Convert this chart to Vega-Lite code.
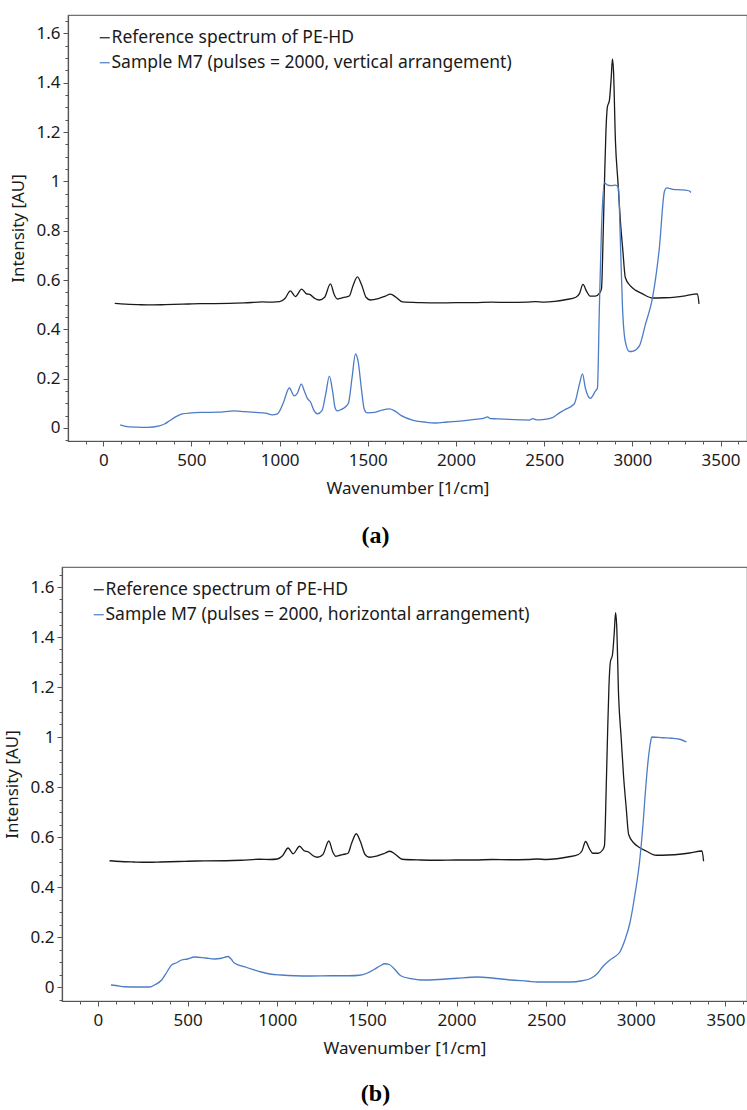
{
  "$schema": "https://vega.github.io/schema/vega-lite/v6.json",
  "padding": {"left": 2, "top": 14, "right": 0, "bottom": 5},
  "spacing": 17,
  "config": {
    "view": {"stroke": "#707070", "strokeWidth": 1.2},
    "axis": {
      "labelFont": "Noto Sans", "labelFontSize": 17, "labelColor": "#1a1a1a",
      "titleFont": "Noto Sans", "titleFontSize": 17, "titleFontWeight": "normal", "titleColor": "#1a1a1a",
      "domainColor": "#555555", "domainWidth": 1.2, "tickColor": "#555555", "tickWidth": 1, "grid": false
    },
    "legend": {
      "labelFont": "Noto Sans", "labelFontSize": 17.5, "labelColor": "#1a1a1a", "labelLimit": 700,
      "symbolType": "stroke", "symbolSize": 100, "symbolStrokeWidth": 1.2,
      "orient": "none", "legendX": 28, "legendY": 14, "rowPadding": 6, "labelOffset": -2, "padding": 0
    },
    "title": {"font": "Liberation Serif", "fontSize": 24, "fontWeight": "bold", "color": "#000000"}
  },
  "datasets": {
    "ref": [
      {"series": "Reference spectrum of PE-HD", "wn": 65, "I": 0.505},
      {"series": "Reference spectrum of PE-HD", "wn": 100, "I": 0.503},
      {"series": "Reference spectrum of PE-HD", "wn": 150, "I": 0.501},
      {"series": "Reference spectrum of PE-HD", "wn": 200, "I": 0.5},
      {"series": "Reference spectrum of PE-HD", "wn": 278, "I": 0.499},
      {"series": "Reference spectrum of PE-HD", "wn": 350, "I": 0.5},
      {"series": "Reference spectrum of PE-HD", "wn": 450, "I": 0.502},
      {"series": "Reference spectrum of PE-HD", "wn": 550, "I": 0.504},
      {"series": "Reference spectrum of PE-HD", "wn": 714, "I": 0.505},
      {"series": "Reference spectrum of PE-HD", "wn": 800, "I": 0.507},
      {"series": "Reference spectrum of PE-HD", "wn": 902, "I": 0.511},
      {"series": "Reference spectrum of PE-HD", "wn": 960, "I": 0.51},
      {"series": "Reference spectrum of PE-HD", "wn": 1000, "I": 0.512},
      {"series": "Reference spectrum of PE-HD", "wn": 1030, "I": 0.525},
      {"series": "Reference spectrum of PE-HD", "wn": 1061, "I": 0.556},
      {"series": "Reference spectrum of PE-HD", "wn": 1089, "I": 0.533},
      {"series": "Reference spectrum of PE-HD", "wn": 1125, "I": 0.563},
      {"series": "Reference spectrum of PE-HD", "wn": 1150, "I": 0.545},
      {"series": "Reference spectrum of PE-HD", "wn": 1175, "I": 0.54},
      {"series": "Reference spectrum of PE-HD", "wn": 1200, "I": 0.525},
      {"series": "Reference spectrum of PE-HD", "wn": 1225, "I": 0.519},
      {"series": "Reference spectrum of PE-HD", "wn": 1255, "I": 0.53},
      {"series": "Reference spectrum of PE-HD", "wn": 1288, "I": 0.584},
      {"series": "Reference spectrum of PE-HD", "wn": 1310, "I": 0.54},
      {"series": "Reference spectrum of PE-HD", "wn": 1327, "I": 0.523},
      {"series": "Reference spectrum of PE-HD", "wn": 1350, "I": 0.527},
      {"series": "Reference spectrum of PE-HD", "wn": 1373, "I": 0.531},
      {"series": "Reference spectrum of PE-HD", "wn": 1395, "I": 0.535},
      {"series": "Reference spectrum of PE-HD", "wn": 1415, "I": 0.575},
      {"series": "Reference spectrum of PE-HD", "wn": 1441, "I": 0.613},
      {"series": "Reference spectrum of PE-HD", "wn": 1465, "I": 0.58},
      {"series": "Reference spectrum of PE-HD", "wn": 1490, "I": 0.53},
      {"series": "Reference spectrum of PE-HD", "wn": 1514, "I": 0.519},
      {"series": "Reference spectrum of PE-HD", "wn": 1560, "I": 0.525},
      {"series": "Reference spectrum of PE-HD", "wn": 1600, "I": 0.535},
      {"series": "Reference spectrum of PE-HD", "wn": 1628, "I": 0.543},
      {"series": "Reference spectrum of PE-HD", "wn": 1660, "I": 0.53},
      {"series": "Reference spectrum of PE-HD", "wn": 1696, "I": 0.511},
      {"series": "Reference spectrum of PE-HD", "wn": 1800, "I": 0.508},
      {"series": "Reference spectrum of PE-HD", "wn": 1900, "I": 0.507},
      {"series": "Reference spectrum of PE-HD", "wn": 2000, "I": 0.508},
      {"series": "Reference spectrum of PE-HD", "wn": 2100, "I": 0.508},
      {"series": "Reference spectrum of PE-HD", "wn": 2200, "I": 0.51},
      {"series": "Reference spectrum of PE-HD", "wn": 2300, "I": 0.509},
      {"series": "Reference spectrum of PE-HD", "wn": 2400, "I": 0.51},
      {"series": "Reference spectrum of PE-HD", "wn": 2450, "I": 0.512},
      {"series": "Reference spectrum of PE-HD", "wn": 2500, "I": 0.51},
      {"series": "Reference spectrum of PE-HD", "wn": 2560, "I": 0.513},
      {"series": "Reference spectrum of PE-HD", "wn": 2620, "I": 0.52},
      {"series": "Reference spectrum of PE-HD", "wn": 2680, "I": 0.53},
      {"series": "Reference spectrum of PE-HD", "wn": 2700, "I": 0.545},
      {"series": "Reference spectrum of PE-HD", "wn": 2720, "I": 0.582},
      {"series": "Reference spectrum of PE-HD", "wn": 2740, "I": 0.555},
      {"series": "Reference spectrum of PE-HD", "wn": 2760, "I": 0.535},
      {"series": "Reference spectrum of PE-HD", "wn": 2790, "I": 0.535},
      {"series": "Reference spectrum of PE-HD", "wn": 2815, "I": 0.548},
      {"series": "Reference spectrum of PE-HD", "wn": 2825, "I": 0.565},
      {"series": "Reference spectrum of PE-HD", "wn": 2835, "I": 0.8},
      {"series": "Reference spectrum of PE-HD", "wn": 2842, "I": 1.0},
      {"series": "Reference spectrum of PE-HD", "wn": 2850, "I": 1.2},
      {"series": "Reference spectrum of PE-HD", "wn": 2858, "I": 1.3},
      {"series": "Reference spectrum of PE-HD", "wn": 2870, "I": 1.33},
      {"series": "Reference spectrum of PE-HD", "wn": 2880, "I": 1.42},
      {"series": "Reference spectrum of PE-HD", "wn": 2887, "I": 1.497},
      {"series": "Reference spectrum of PE-HD", "wn": 2893, "I": 1.45},
      {"series": "Reference spectrum of PE-HD", "wn": 2904, "I": 1.164},
      {"series": "Reference spectrum of PE-HD", "wn": 2918, "I": 1.0},
      {"series": "Reference spectrum of PE-HD", "wn": 2932, "I": 0.84},
      {"series": "Reference spectrum of PE-HD", "wn": 2946, "I": 0.72},
      {"series": "Reference spectrum of PE-HD", "wn": 2960, "I": 0.61},
      {"series": "Reference spectrum of PE-HD", "wn": 2989, "I": 0.576},
      {"series": "Reference spectrum of PE-HD", "wn": 3020, "I": 0.558},
      {"series": "Reference spectrum of PE-HD", "wn": 3057, "I": 0.544},
      {"series": "Reference spectrum of PE-HD", "wn": 3114, "I": 0.527},
      {"series": "Reference spectrum of PE-HD", "wn": 3180, "I": 0.528},
      {"series": "Reference spectrum of PE-HD", "wn": 3244, "I": 0.531},
      {"series": "Reference spectrum of PE-HD", "wn": 3300, "I": 0.536},
      {"series": "Reference spectrum of PE-HD", "wn": 3369, "I": 0.544},
      {"series": "Reference spectrum of PE-HD", "wn": 3378, "I": 0.503}
    ],
    "sa": [
      {"series": "Sample M7 (pulses = 2000, vertical arrangement)", "wn": 96, "I": 0.012},
      {"series": "Sample M7 (pulses = 2000, vertical arrangement)", "wn": 120, "I": 0.007},
      {"series": "Sample M7 (pulses = 2000, vertical arrangement)", "wn": 147, "I": 0.004},
      {"series": "Sample M7 (pulses = 2000, vertical arrangement)", "wn": 200, "I": 0.003},
      {"series": "Sample M7 (pulses = 2000, vertical arrangement)", "wn": 250, "I": 0.002},
      {"series": "Sample M7 (pulses = 2000, vertical arrangement)", "wn": 318, "I": 0.008},
      {"series": "Sample M7 (pulses = 2000, vertical arrangement)", "wn": 350, "I": 0.017},
      {"series": "Sample M7 (pulses = 2000, vertical arrangement)", "wn": 374, "I": 0.028},
      {"series": "Sample M7 (pulses = 2000, vertical arrangement)", "wn": 410, "I": 0.045},
      {"series": "Sample M7 (pulses = 2000, vertical arrangement)", "wn": 448, "I": 0.057},
      {"series": "Sample M7 (pulses = 2000, vertical arrangement)", "wn": 500, "I": 0.061},
      {"series": "Sample M7 (pulses = 2000, vertical arrangement)", "wn": 562, "I": 0.063},
      {"series": "Sample M7 (pulses = 2000, vertical arrangement)", "wn": 650, "I": 0.064},
      {"series": "Sample M7 (pulses = 2000, vertical arrangement)", "wn": 743, "I": 0.069},
      {"series": "Sample M7 (pulses = 2000, vertical arrangement)", "wn": 800, "I": 0.066},
      {"series": "Sample M7 (pulses = 2000, vertical arrangement)", "wn": 862, "I": 0.063},
      {"series": "Sample M7 (pulses = 2000, vertical arrangement)", "wn": 920, "I": 0.06},
      {"series": "Sample M7 (pulses = 2000, vertical arrangement)", "wn": 958, "I": 0.053},
      {"series": "Sample M7 (pulses = 2000, vertical arrangement)", "wn": 987, "I": 0.057},
      {"series": "Sample M7 (pulses = 2000, vertical arrangement)", "wn": 1020, "I": 0.1},
      {"series": "Sample M7 (pulses = 2000, vertical arrangement)", "wn": 1055, "I": 0.162},
      {"series": "Sample M7 (pulses = 2000, vertical arrangement)", "wn": 1083, "I": 0.13},
      {"series": "Sample M7 (pulses = 2000, vertical arrangement)", "wn": 1100, "I": 0.14},
      {"series": "Sample M7 (pulses = 2000, vertical arrangement)", "wn": 1123, "I": 0.178},
      {"series": "Sample M7 (pulses = 2000, vertical arrangement)", "wn": 1140, "I": 0.15},
      {"series": "Sample M7 (pulses = 2000, vertical arrangement)", "wn": 1157, "I": 0.12},
      {"series": "Sample M7 (pulses = 2000, vertical arrangement)", "wn": 1175, "I": 0.105},
      {"series": "Sample M7 (pulses = 2000, vertical arrangement)", "wn": 1195, "I": 0.07},
      {"series": "Sample M7 (pulses = 2000, vertical arrangement)", "wn": 1214, "I": 0.057},
      {"series": "Sample M7 (pulses = 2000, vertical arrangement)", "wn": 1240, "I": 0.07},
      {"series": "Sample M7 (pulses = 2000, vertical arrangement)", "wn": 1262, "I": 0.14},
      {"series": "Sample M7 (pulses = 2000, vertical arrangement)", "wn": 1282, "I": 0.21},
      {"series": "Sample M7 (pulses = 2000, vertical arrangement)", "wn": 1300, "I": 0.15},
      {"series": "Sample M7 (pulses = 2000, vertical arrangement)", "wn": 1315, "I": 0.08},
      {"series": "Sample M7 (pulses = 2000, vertical arrangement)", "wn": 1327, "I": 0.069},
      {"series": "Sample M7 (pulses = 2000, vertical arrangement)", "wn": 1350, "I": 0.075},
      {"series": "Sample M7 (pulses = 2000, vertical arrangement)", "wn": 1365, "I": 0.081},
      {"series": "Sample M7 (pulses = 2000, vertical arrangement)", "wn": 1390, "I": 0.1},
      {"series": "Sample M7 (pulses = 2000, vertical arrangement)", "wn": 1410, "I": 0.2},
      {"series": "Sample M7 (pulses = 2000, vertical arrangement)", "wn": 1430, "I": 0.3},
      {"series": "Sample M7 (pulses = 2000, vertical arrangement)", "wn": 1445, "I": 0.27},
      {"series": "Sample M7 (pulses = 2000, vertical arrangement)", "wn": 1465, "I": 0.15},
      {"series": "Sample M7 (pulses = 2000, vertical arrangement)", "wn": 1480, "I": 0.075},
      {"series": "Sample M7 (pulses = 2000, vertical arrangement)", "wn": 1497, "I": 0.061},
      {"series": "Sample M7 (pulses = 2000, vertical arrangement)", "wn": 1540, "I": 0.063},
      {"series": "Sample M7 (pulses = 2000, vertical arrangement)", "wn": 1580, "I": 0.072},
      {"series": "Sample M7 (pulses = 2000, vertical arrangement)", "wn": 1622, "I": 0.077},
      {"series": "Sample M7 (pulses = 2000, vertical arrangement)", "wn": 1650, "I": 0.07},
      {"series": "Sample M7 (pulses = 2000, vertical arrangement)", "wn": 1690, "I": 0.05},
      {"series": "Sample M7 (pulses = 2000, vertical arrangement)", "wn": 1753, "I": 0.032},
      {"series": "Sample M7 (pulses = 2000, vertical arrangement)", "wn": 1820, "I": 0.024},
      {"series": "Sample M7 (pulses = 2000, vertical arrangement)", "wn": 1883, "I": 0.02},
      {"series": "Sample M7 (pulses = 2000, vertical arrangement)", "wn": 1950, "I": 0.024},
      {"series": "Sample M7 (pulses = 2000, vertical arrangement)", "wn": 2050, "I": 0.03},
      {"series": "Sample M7 (pulses = 2000, vertical arrangement)", "wn": 2120, "I": 0.036},
      {"series": "Sample M7 (pulses = 2000, vertical arrangement)", "wn": 2160, "I": 0.04},
      {"series": "Sample M7 (pulses = 2000, vertical arrangement)", "wn": 2178, "I": 0.045},
      {"series": "Sample M7 (pulses = 2000, vertical arrangement)", "wn": 2195, "I": 0.038},
      {"series": "Sample M7 (pulses = 2000, vertical arrangement)", "wn": 2234, "I": 0.037},
      {"series": "Sample M7 (pulses = 2000, vertical arrangement)", "wn": 2300, "I": 0.035},
      {"series": "Sample M7 (pulses = 2000, vertical arrangement)", "wn": 2370, "I": 0.033},
      {"series": "Sample M7 (pulses = 2000, vertical arrangement)", "wn": 2416, "I": 0.032},
      {"series": "Sample M7 (pulses = 2000, vertical arrangement)", "wn": 2435, "I": 0.038},
      {"series": "Sample M7 (pulses = 2000, vertical arrangement)", "wn": 2455, "I": 0.033},
      {"series": "Sample M7 (pulses = 2000, vertical arrangement)", "wn": 2490, "I": 0.034},
      {"series": "Sample M7 (pulses = 2000, vertical arrangement)", "wn": 2547, "I": 0.042},
      {"series": "Sample M7 (pulses = 2000, vertical arrangement)", "wn": 2580, "I": 0.058},
      {"series": "Sample M7 (pulses = 2000, vertical arrangement)", "wn": 2615, "I": 0.073},
      {"series": "Sample M7 (pulses = 2000, vertical arrangement)", "wn": 2671, "I": 0.098},
      {"series": "Sample M7 (pulses = 2000, vertical arrangement)", "wn": 2700, "I": 0.178},
      {"series": "Sample M7 (pulses = 2000, vertical arrangement)", "wn": 2717, "I": 0.219},
      {"series": "Sample M7 (pulses = 2000, vertical arrangement)", "wn": 2734, "I": 0.16},
      {"series": "Sample M7 (pulses = 2000, vertical arrangement)", "wn": 2762, "I": 0.12},
      {"series": "Sample M7 (pulses = 2000, vertical arrangement)", "wn": 2791, "I": 0.15},
      {"series": "Sample M7 (pulses = 2000, vertical arrangement)", "wn": 2802, "I": 0.162},
      {"series": "Sample M7 (pulses = 2000, vertical arrangement)", "wn": 2813, "I": 0.49},
      {"series": "Sample M7 (pulses = 2000, vertical arrangement)", "wn": 2825, "I": 0.81},
      {"series": "Sample M7 (pulses = 2000, vertical arrangement)", "wn": 2841, "I": 0.994},
      {"series": "Sample M7 (pulses = 2000, vertical arrangement)", "wn": 2860, "I": 0.985},
      {"series": "Sample M7 (pulses = 2000, vertical arrangement)", "wn": 2880, "I": 0.983},
      {"series": "Sample M7 (pulses = 2000, vertical arrangement)", "wn": 2905, "I": 0.985},
      {"series": "Sample M7 (pulses = 2000, vertical arrangement)", "wn": 2921, "I": 0.975},
      {"series": "Sample M7 (pulses = 2000, vertical arrangement)", "wn": 2932, "I": 0.76},
      {"series": "Sample M7 (pulses = 2000, vertical arrangement)", "wn": 2944, "I": 0.49},
      {"series": "Sample M7 (pulses = 2000, vertical arrangement)", "wn": 2960, "I": 0.35},
      {"series": "Sample M7 (pulses = 2000, vertical arrangement)", "wn": 2983, "I": 0.31},
      {"series": "Sample M7 (pulses = 2000, vertical arrangement)", "wn": 3005, "I": 0.312},
      {"series": "Sample M7 (pulses = 2000, vertical arrangement)", "wn": 3040, "I": 0.333},
      {"series": "Sample M7 (pulses = 2000, vertical arrangement)", "wn": 3074, "I": 0.42},
      {"series": "Sample M7 (pulses = 2000, vertical arrangement)", "wn": 3114, "I": 0.527},
      {"series": "Sample M7 (pulses = 2000, vertical arrangement)", "wn": 3153, "I": 0.73},
      {"series": "Sample M7 (pulses = 2000, vertical arrangement)", "wn": 3182, "I": 0.96},
      {"series": "Sample M7 (pulses = 2000, vertical arrangement)", "wn": 3195, "I": 0.974},
      {"series": "Sample M7 (pulses = 2000, vertical arrangement)", "wn": 3230, "I": 0.968},
      {"series": "Sample M7 (pulses = 2000, vertical arrangement)", "wn": 3270, "I": 0.966},
      {"series": "Sample M7 (pulses = 2000, vertical arrangement)", "wn": 3300, "I": 0.965},
      {"series": "Sample M7 (pulses = 2000, vertical arrangement)", "wn": 3324, "I": 0.961},
      {"series": "Sample M7 (pulses = 2000, vertical arrangement)", "wn": 3332, "I": 0.955}
    ],
    "sb": [
      {"series": "Sample M7 (pulses = 2000, horizontal arrangement)", "wn": 73, "I": 0.008},
      {"series": "Sample M7 (pulses = 2000, horizontal arrangement)", "wn": 100, "I": 0.006},
      {"series": "Sample M7 (pulses = 2000, horizontal arrangement)", "wn": 150, "I": 0.001},
      {"series": "Sample M7 (pulses = 2000, horizontal arrangement)", "wn": 220, "I": 0.0},
      {"series": "Sample M7 (pulses = 2000, horizontal arrangement)", "wn": 289, "I": 0.0},
      {"series": "Sample M7 (pulses = 2000, horizontal arrangement)", "wn": 320, "I": 0.01},
      {"series": "Sample M7 (pulses = 2000, horizontal arrangement)", "wn": 356, "I": 0.028},
      {"series": "Sample M7 (pulses = 2000, horizontal arrangement)", "wn": 385, "I": 0.06},
      {"series": "Sample M7 (pulses = 2000, horizontal arrangement)", "wn": 411, "I": 0.088},
      {"series": "Sample M7 (pulses = 2000, horizontal arrangement)", "wn": 440, "I": 0.097},
      {"series": "Sample M7 (pulses = 2000, horizontal arrangement)", "wn": 467, "I": 0.108},
      {"series": "Sample M7 (pulses = 2000, horizontal arrangement)", "wn": 500, "I": 0.112},
      {"series": "Sample M7 (pulses = 2000, horizontal arrangement)", "wn": 539, "I": 0.12},
      {"series": "Sample M7 (pulses = 2000, horizontal arrangement)", "wn": 600, "I": 0.116},
      {"series": "Sample M7 (pulses = 2000, horizontal arrangement)", "wn": 650, "I": 0.112},
      {"series": "Sample M7 (pulses = 2000, horizontal arrangement)", "wn": 690, "I": 0.115},
      {"series": "Sample M7 (pulses = 2000, horizontal arrangement)", "wn": 726, "I": 0.122},
      {"series": "Sample M7 (pulses = 2000, horizontal arrangement)", "wn": 745, "I": 0.11},
      {"series": "Sample M7 (pulses = 2000, horizontal arrangement)", "wn": 761, "I": 0.096},
      {"series": "Sample M7 (pulses = 2000, horizontal arrangement)", "wn": 830, "I": 0.078},
      {"series": "Sample M7 (pulses = 2000, horizontal arrangement)", "wn": 911, "I": 0.06},
      {"series": "Sample M7 (pulses = 2000, horizontal arrangement)", "wn": 960, "I": 0.052},
      {"series": "Sample M7 (pulses = 2000, horizontal arrangement)", "wn": 1022, "I": 0.048},
      {"series": "Sample M7 (pulses = 2000, horizontal arrangement)", "wn": 1100, "I": 0.045},
      {"series": "Sample M7 (pulses = 2000, horizontal arrangement)", "wn": 1189, "I": 0.044},
      {"series": "Sample M7 (pulses = 2000, horizontal arrangement)", "wn": 1300, "I": 0.045},
      {"series": "Sample M7 (pulses = 2000, horizontal arrangement)", "wn": 1400, "I": 0.045},
      {"series": "Sample M7 (pulses = 2000, horizontal arrangement)", "wn": 1460, "I": 0.047},
      {"series": "Sample M7 (pulses = 2000, horizontal arrangement)", "wn": 1500, "I": 0.055},
      {"series": "Sample M7 (pulses = 2000, horizontal arrangement)", "wn": 1540, "I": 0.07},
      {"series": "Sample M7 (pulses = 2000, horizontal arrangement)", "wn": 1575, "I": 0.085},
      {"series": "Sample M7 (pulses = 2000, horizontal arrangement)", "wn": 1600, "I": 0.093},
      {"series": "Sample M7 (pulses = 2000, horizontal arrangement)", "wn": 1625, "I": 0.09},
      {"series": "Sample M7 (pulses = 2000, horizontal arrangement)", "wn": 1650, "I": 0.075},
      {"series": "Sample M7 (pulses = 2000, horizontal arrangement)", "wn": 1689, "I": 0.045},
      {"series": "Sample M7 (pulses = 2000, horizontal arrangement)", "wn": 1750, "I": 0.033},
      {"series": "Sample M7 (pulses = 2000, horizontal arrangement)", "wn": 1800, "I": 0.028},
      {"series": "Sample M7 (pulses = 2000, horizontal arrangement)", "wn": 1900, "I": 0.03},
      {"series": "Sample M7 (pulses = 2000, horizontal arrangement)", "wn": 2000, "I": 0.035},
      {"series": "Sample M7 (pulses = 2000, horizontal arrangement)", "wn": 2117, "I": 0.04},
      {"series": "Sample M7 (pulses = 2000, horizontal arrangement)", "wn": 2200, "I": 0.036},
      {"series": "Sample M7 (pulses = 2000, horizontal arrangement)", "wn": 2300, "I": 0.028},
      {"series": "Sample M7 (pulses = 2000, horizontal arrangement)", "wn": 2400, "I": 0.023},
      {"series": "Sample M7 (pulses = 2000, horizontal arrangement)", "wn": 2450, "I": 0.02},
      {"series": "Sample M7 (pulses = 2000, horizontal arrangement)", "wn": 2550, "I": 0.02},
      {"series": "Sample M7 (pulses = 2000, horizontal arrangement)", "wn": 2633, "I": 0.02},
      {"series": "Sample M7 (pulses = 2000, horizontal arrangement)", "wn": 2700, "I": 0.025},
      {"series": "Sample M7 (pulses = 2000, horizontal arrangement)", "wn": 2750, "I": 0.035},
      {"series": "Sample M7 (pulses = 2000, horizontal arrangement)", "wn": 2783, "I": 0.052},
      {"series": "Sample M7 (pulses = 2000, horizontal arrangement)", "wn": 2820, "I": 0.085},
      {"series": "Sample M7 (pulses = 2000, horizontal arrangement)", "wn": 2856, "I": 0.108},
      {"series": "Sample M7 (pulses = 2000, horizontal arrangement)", "wn": 2880, "I": 0.12},
      {"series": "Sample M7 (pulses = 2000, horizontal arrangement)", "wn": 2911, "I": 0.14},
      {"series": "Sample M7 (pulses = 2000, horizontal arrangement)", "wn": 2940, "I": 0.19},
      {"series": "Sample M7 (pulses = 2000, horizontal arrangement)", "wn": 2967, "I": 0.256},
      {"series": "Sample M7 (pulses = 2000, horizontal arrangement)", "wn": 2995, "I": 0.37},
      {"series": "Sample M7 (pulses = 2000, horizontal arrangement)", "wn": 3022, "I": 0.508},
      {"series": "Sample M7 (pulses = 2000, horizontal arrangement)", "wn": 3040, "I": 0.65},
      {"series": "Sample M7 (pulses = 2000, horizontal arrangement)", "wn": 3050, "I": 0.748},
      {"series": "Sample M7 (pulses = 2000, horizontal arrangement)", "wn": 3065, "I": 0.88},
      {"series": "Sample M7 (pulses = 2000, horizontal arrangement)", "wn": 3080, "I": 0.97},
      {"series": "Sample M7 (pulses = 2000, horizontal arrangement)", "wn": 3089, "I": 1.0},
      {"series": "Sample M7 (pulses = 2000, horizontal arrangement)", "wn": 3150, "I": 0.997},
      {"series": "Sample M7 (pulses = 2000, horizontal arrangement)", "wn": 3200, "I": 0.995},
      {"series": "Sample M7 (pulses = 2000, horizontal arrangement)", "wn": 3250, "I": 0.99},
      {"series": "Sample M7 (pulses = 2000, horizontal arrangement)", "wn": 3283, "I": 0.98}
    ]
  },
  "vconcat": [
    {
      "spacing": 0,
      "resolve": {"scale": {"color": "independent"}, "legend": {"color": "independent"}},
      "hconcat": [
        {
          "width": 7, "height": 10,
          "view": {"stroke": null},
          "data": {"values": []},
          "mark": "point"
        },
        {
          "width": 679,
          "height": 426,
          "title": {"text": "(a)", "orient": "bottom", "offset": 28, "dx": -32},
          "resolve": {"axis": {"x": "independent", "y": "independent"}},
          "layer": [
            {
              "data": {"name": "ref"},
              "mark": {"type": "line", "strokeWidth": 1.3, "interpolate": "monotone"},
              "encoding": {
                "x": {"field": "wn", "type": "quantitative",
                  "scale": {"domain": [-200, 3650], "nice": false, "zero": false},
                  "axis": {"orient": "bottom", "values": [0, 500, 1000, 1500, 2000, 2500, 3000, 3500], "format": "d", "title": "Wavenumber [1/cm]", "tickSize": 5, "labelPadding": 6, "titlePadding": 12}},
                "y": {"field": "I", "type": "quantitative",
                  "scale": {"domain": [-0.053, 1.675], "nice": false, "zero": false},
                  "axis": {"orient": "left", "values": [0, 0.2, 0.4, 0.6, 0.8, 1, 1.2, 1.4, 1.6], "format": "~g", "title": "Intensity [AU]", "tickSize": 5, "labelPadding": 3, "titlePadding": 8}},
                "color": {"field": "series", "type": "nominal",
                  "scale": {"domain": ["Reference spectrum of PE-HD", "Sample M7 (pulses = 2000, vertical arrangement)"], "range": ["#1a1a1a", "#4d7cc6"]},
                  "legend": {"title": null}}
              }
            },
            {
              "data": {"name": "sa"},
              "mark": {"type": "line", "strokeWidth": 1.3, "interpolate": "monotone"},
              "encoding": {
                "x": {"field": "wn", "type": "quantitative",
                  "axis": {"orient": "bottom", "values": [-100, 100, 200, 300, 400, 600, 700, 800, 900, 1100, 1200, 1300, 1400, 1600, 1700, 1800, 1900, 2100, 2200, 2300, 2400, 2600, 2700, 2800, 2900, 3100, 3200, 3300, 3400, 3600], "labels": false, "domain": false, "tickSize": 3, "title": null}},
                "y": {"field": "I", "type": "quantitative",
                  "axis": {"orient": "left", "values": [-0.05, 0.05, 0.1, 0.15, 0.25, 0.3, 0.35, 0.45, 0.5, 0.55, 0.65, 0.7, 0.75, 0.85, 0.9, 0.95, 1.05, 1.1, 1.15, 1.25, 1.3, 1.35, 1.45, 1.5, 1.55, 1.65], "labels": false, "domain": false, "tickSize": 3, "title": null}},
                "color": {"field": "series", "type": "nominal"}
              }
            }
          ]
        }
      ]
    },
    {
      "spacing": 0,
      "resolve": {"scale": {"color": "independent"}, "legend": {"color": "independent"}},
      "hconcat": [
        {
          "width": 1, "height": 10,
          "view": {"stroke": null},
          "data": {"values": []},
          "mark": "point"
        },
        {
          "width": 685,
          "height": 434,
          "title": {"text": "(b)", "orient": "bottom", "offset": 26, "dx": -29},
          "resolve": {"axis": {"x": "independent", "y": "independent"}},
          "layer": [
            {
              "data": {"name": "ref"},
              "mark": {"type": "line", "strokeWidth": 1.3, "interpolate": "monotone"},
              "encoding": {
                "x": {"field": "wn", "type": "quantitative",
                  "scale": {"domain": [-200, 3620], "nice": false, "zero": false},
                  "axis": {"orient": "bottom", "values": [0, 500, 1000, 1500, 2000, 2500, 3000, 3500], "format": "d", "title": "Wavenumber [1/cm]", "tickSize": 5, "labelPadding": 6, "titlePadding": 12}},
                "y": {"field": "I", "type": "quantitative",
                  "scale": {"domain": [-0.056, 1.68], "nice": false, "zero": false},
                  "axis": {"orient": "left", "values": [0, 0.2, 0.4, 0.6, 0.8, 1, 1.2, 1.4, 1.6], "format": "~g", "title": "Intensity [AU]", "tickSize": 5, "labelPadding": 3, "titlePadding": 8}},
                "color": {"field": "series", "type": "nominal",
                  "scale": {"domain": ["Reference spectrum of PE-HD", "Sample M7 (pulses = 2000, horizontal arrangement)"], "range": ["#1a1a1a", "#4d7cc6"]},
                  "legend": {"title": null}}
              }
            },
            {
              "data": {"name": "sb"},
              "mark": {"type": "line", "strokeWidth": 1.3, "interpolate": "monotone"},
              "encoding": {
                "x": {"field": "wn", "type": "quantitative",
                  "axis": {"orient": "bottom", "values": [-100, 100, 200, 300, 400, 600, 700, 800, 900, 1100, 1200, 1300, 1400, 1600, 1700, 1800, 1900, 2100, 2200, 2300, 2400, 2600, 2700, 2800, 2900, 3100, 3200, 3300, 3400, 3600], "labels": false, "domain": false, "tickSize": 3, "title": null}},
                "y": {"field": "I", "type": "quantitative",
                  "axis": {"orient": "left", "values": [-0.05, 0.05, 0.1, 0.15, 0.25, 0.3, 0.35, 0.45, 0.5, 0.55, 0.65, 0.7, 0.75, 0.85, 0.9, 0.95, 1.05, 1.1, 1.15, 1.25, 1.3, 1.35, 1.45, 1.5, 1.55, 1.65], "labels": false, "domain": false, "tickSize": 3, "title": null}},
                "color": {"field": "series", "type": "nominal"}
              }
            }
          ]
        }
      ]
    }
  ],
  "resolve": {"scale": {"color": "independent"}}
}
